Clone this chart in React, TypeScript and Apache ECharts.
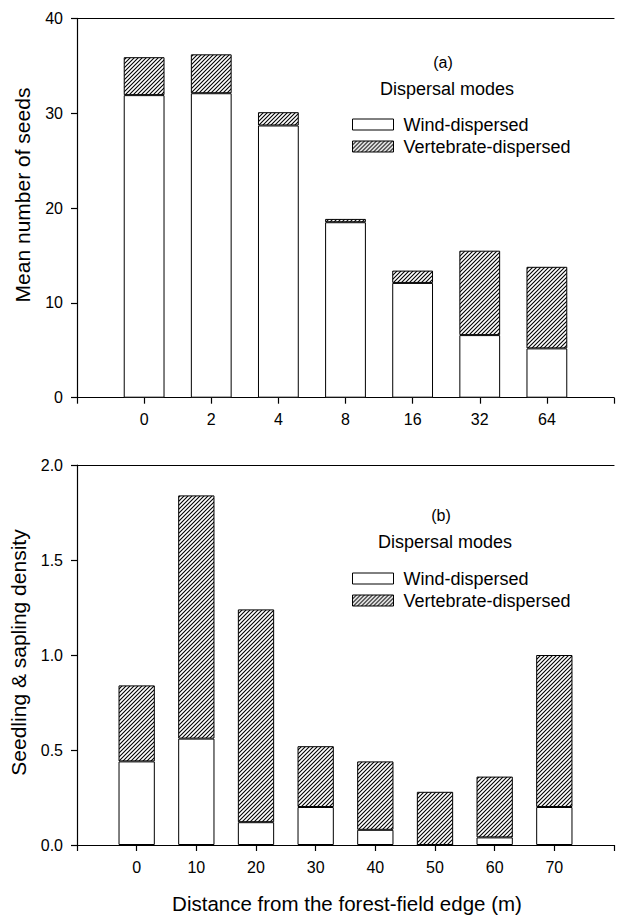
import React, { useEffect, useRef } from "react";
import * as echarts from "echarts";

// ---- data ----
const topCategories = ["0", "2", "4", "8", "16", "32", "64"];
const topWind = [31.9, 32.1, 28.7, 18.5, 12.1, 6.6, 5.2];
const topVertebrate = [4.0, 4.1, 1.4, 0.35, 1.3, 8.9, 8.6];

const bottomCategories = ["0", "10", "20", "30", "40", "50", "60", "70"];
const bottomWind = [0.44, 0.56, 0.12, 0.2, 0.08, 0, 0.04, 0.2];
const bottomVertebrate = [0.4, 1.28, 1.12, 0.32, 0.36, 0.28, 0.32, 0.8];

const seriesNames = ["Wind-dispersed", "Vertebrate-dispersed"];
const yTitles = ["Mean number of seeds", "Seedling & sapling density"];
const xTitle = "Distance from the forest-field edge (m)";

const FONT = "'Liberation Sans', Arial, Helvetica, sans-serif";

function makeHatch(): HTMLCanvasElement {
  const c = document.createElement("canvas");
  c.width = 4;
  c.height = 4;
  const ctx = c.getContext("2d")!;
  ctx.fillStyle = "#ffffff";
  ctx.fillRect(0, 0, 4, 4);
  ctx.strokeStyle = "#000000";
  ctx.lineWidth = 1.1;
  ctx.beginPath();
  ctx.moveTo(-1, 5);
  ctx.lineTo(5, -1);
  ctx.moveTo(-1, 1);
  ctx.lineTo(1, -1);
  ctx.moveTo(3, 5);
  ctx.lineTo(5, 3);
  ctx.stroke();
  return c;
}

// pad categories: one empty slot before the first category (axis start) and one after
const padded = (cats: string[]) => ["", ...cats, ""];
const toPairs = (vals: number[]) => vals.map((v, i) => [i + 1, v]);

export default function App() {
  const ref = useRef<HTMLDivElement>(null);

  useEffect(() => {
    if (!ref.current) return;
    const chart = echarts.init(ref.current, null, { renderer: "svg" });
    const hatch = { image: makeHatch(), repeat: "repeat" } as any;

    const axisLine = { show: true, onZero: false, lineStyle: { color: "#000", width: 1.2 } };
    const tickStyle = { color: "#000", width: 1.2 };
    const labelStyle = { color: "#000", fontSize: 16, fontFamily: FONT };

    const windStyle = { color: "#ffffff", borderColor: "#000", borderWidth: 1 };
    const vertStyle = { color: hatch, borderColor: "#000", borderWidth: 1 };

    const legendBase = {
      orient: "vertical",
      left: 352,
      itemWidth: 41,
      itemHeight: 11,
      itemGap: 4,
      icon: "rect",
      padding: 0,
      selectedMode: false,
      data: seriesNames,
      itemStyle: { borderColor: "#000", borderWidth: 1 },
      textStyle: {
        color: "#000",
        fontSize: 18,
        fontFamily: FONT,
        padding: [0, 0, 0, 5],
      },
    };

    const catAxis = (gridIndex: number, cats: string[]) => ({
      type: "category",
      gridIndex,
      data: padded(cats),
      boundaryGap: false,
      axisLine,
      axisTick: { show: true, length: 6, inside: false, lineStyle: tickStyle, interval: 0 },
      axisLabel: { ...labelStyle, margin: 14, interval: 0 },
      splitLine: { show: false },
    });
    const topBorder = (gridIndex: number, cats: string[]) => ({
      type: "category",
      gridIndex,
      position: "top",
      data: padded(cats),
      boundaryGap: false,
      axisLine,
      axisTick: { show: false },
      axisLabel: { show: false },
      splitLine: { show: false },
    });

    const text = (t: string, x: number, y: number, size: number, rotation = 0) => ({
      type: "text",
      x,
      y,
      rotation,
      style: {
        text: t,
        fontSize: size,
        fontFamily: FONT,
        fill: "#000",
        align: "center",
        verticalAlign: "middle",
      },
    });

    const option: any = {
      animation: false,
      backgroundColor: "#ffffff",
      grid: [
        { left: 77, top: 18.3, width: 543.6, height: 379.4 },
        { left: 77, top: 465, width: 545.1, height: 380 },
      ],
      xAxis: [
        catAxis(0, topCategories),
        topBorder(0, topCategories),
        catAxis(1, bottomCategories),
        topBorder(1, bottomCategories),
      ],
      yAxis: [
        {
          type: "value",
          gridIndex: 0,
          min: 0,
          max: 40,
          interval: 10,
          axisLine,
          axisTick: { show: true, length: 6, inside: false, lineStyle: tickStyle },
          axisLabel: { ...labelStyle, margin: 14 },
          splitLine: { show: false },
        },
        {
          type: "value",
          gridIndex: 1,
          min: 0,
          max: 2,
          interval: 0.5,
          axisLine,
          axisTick: { show: true, length: 6, inside: false, lineStyle: tickStyle },
          axisLabel: {
            ...labelStyle,
            margin: 14,
            formatter: (v: number) => v.toFixed(1),
          },
          splitLine: { show: false },
        },
      ],
      legend: [
        { ...legendBase, top: 115.5 },
        { ...legendBase, top: 569.5 },
      ],
      graphic: [
        text("(a)", 443, 62, 16),
        text("Dispersal modes", 447, 88.5, 18),
        text("(b)", 441, 515, 16),
        text("Dispersal modes", 445, 541.7, 18),
        text(yTitles[0], 22, 195, 21, Math.PI / 2),
        text(yTitles[1], 18, 652.5, 21, Math.PI / 2),
        text(xTitle, 347, 903, 20.5),
      ],
      series: [
        {
          type: "bar",
          name: seriesNames[0],
          xAxisIndex: 0,
          yAxisIndex: 0,
          stack: "top",
          barWidth: 40.8,
          itemStyle: windStyle,
          data: toPairs(topWind),
        },
        {
          type: "bar",
          name: seriesNames[1],
          xAxisIndex: 0,
          yAxisIndex: 0,
          stack: "top",
          barWidth: 40.8,
          itemStyle: vertStyle,
          data: toPairs(topVertebrate),
        },
        {
          type: "bar",
          name: seriesNames[0],
          xAxisIndex: 2,
          yAxisIndex: 1,
          stack: "bottom",
          barWidth: 36.3,
          itemStyle: windStyle,
          data: toPairs(bottomWind),
        },
        {
          type: "bar",
          name: seriesNames[1],
          xAxisIndex: 2,
          yAxisIndex: 1,
          stack: "bottom",
          barWidth: 36.3,
          itemStyle: vertStyle,
          data: toPairs(bottomVertebrate),
        },
      ],
    };

    chart.setOption(option);
    return () => chart.dispose();
  }, []);

  return (
    <div
      ref={ref}
      style={{ position: "fixed", left: 0, top: 0, width: 617, height: 915, background: "#fff" }}
    />
  );
}
